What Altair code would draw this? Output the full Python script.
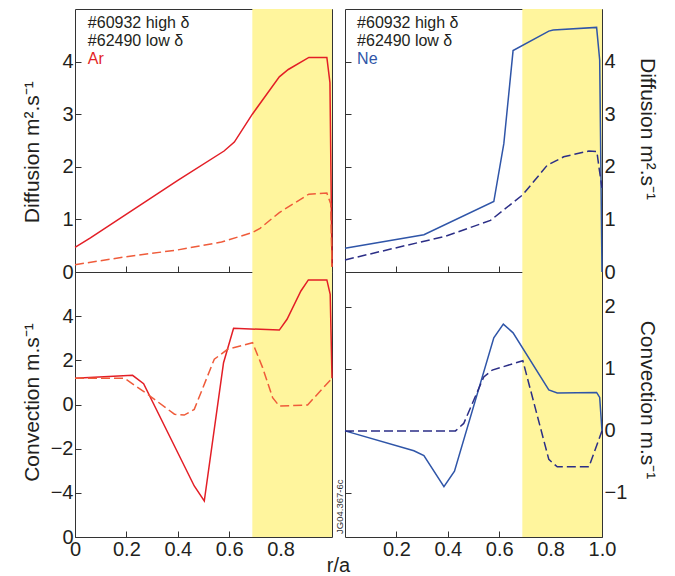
import altair as alt
import pandas as pd

FONT = "Liberation Sans"
BAND_COLOR = "#FFF59D"
BAND_START, BAND_END = 0.69, 1.0

LEGEND_LINES = ["#60932 high δ", "#62490 low δ"]

# Ar diffusion
AR_D_HI_R = [0, 0.06, 0.40, 0.58, 0.62, 0.69, 0.795, 0.83, 0.91, 0.98, 0.992, 1.0]
AR_D_HI_V = [0.47, 0.65, 1.74, 2.30, 2.47, 3.00, 3.71, 3.85, 4.08, 4.08, 3.60, 0.10]
AR_D_LO_R = [0, 0.20, 0.40, 0.57, 0.69, 0.72, 0.795, 0.91, 0.98, 0.995, 1.0]
AR_D_LO_V = [0.14, 0.29, 0.42, 0.57, 0.75, 0.83, 1.13, 1.48, 1.50, 1.30, 0.10]

# Ne diffusion
NE_D_HI_R = [0, 0.307, 0.579, 0.618, 0.654, 0.793, 0.81, 0.979, 0.991, 1.0]
NE_D_HI_V = [0.45, 0.71, 1.34, 2.44, 4.21, 4.58, 4.60, 4.65, 4.03, 0.0]
NE_D_LO_R = [0, 0.294, 0.391, 0.566, 0.692, 0.787, 0.851, 0.949, 0.98, 0.99, 1.0]
NE_D_LO_V = [0.23, 0.57, 0.68, 0.98, 1.47, 2.03, 2.19, 2.30, 2.29, 1.93, 1.60]

# Ar convection
AR_V_HI_R = [0, 0.224, 0.267, 0.464, 0.503, 0.578, 0.617, 0.795, 0.825, 0.879, 0.908, 0.98, 0.993, 1.0]
AR_V_HI_V = [1.19, 1.32, 0.94, -3.69, -4.37, 1.89, 3.45, 3.37, 3.86, 5.14, 5.64, 5.64, 4.99, 1.19]
AR_V_LO_R = [0, 0.192, 0.283, 0.387, 0.425, 0.464, 0.542, 0.594, 0.691, 0.73, 0.769, 0.795, 0.905, 1.0]
AR_V_LO_V = [1.19, 1.19, 0.46, -0.44, -0.48, -0.22, 2.05, 2.50, 2.80, 1.67, 0.31, -0.07, -0.02, 1.19]

# Ne convection
NE_V_HI_R = [0, 0.268, 0.307, 0.385, 0.426, 0.579, 0.616, 0.654, 0.793, 0.826, 0.979, 0.991, 1.0]
NE_V_HI_V = [0, -0.32, -0.40, -0.90, -0.65, 1.50, 1.72, 1.58, 0.66, 0.61, 0.62, 0.54, 0]
NE_V_LO_R = [0, 0.43, 0.462, 0.54, 0.573, 0.692, 0.793, 0.826, 0.949, 1.0]
NE_V_LO_V = [0, 0, 0.12, 0.87, 0.98, 1.13, -0.46, -0.58, -0.58, 0]

AR_HI, AR_LO = "#E31E26", "#EF5B3A"
NE_HI, NE_LO = "#2F55A8", "#2B2E86"
TXT = "#231F20"

W = 257
H_TOP, H_BOT = 263, 265


def x_axis(kind):
    common = dict(domain=False, grid=False, tickSize=6, offset=-6, tickColor="#333",
                  labelPadding=2, labelFlush=False)
    if kind == "top":
        return alt.Axis(values=[0.2, 0.4, 0.6, 0.8], labels=False, title=None, **common)
    if kind == "bl":
        return alt.Axis(values=[0, 0.2, 0.4, 0.6, 0.8],
                        labelExpr="datum.value == 0 ? '0' : format(datum.value, '.1f')",
                        title="r/a", titleX=263, titleY=40, titleBaseline="alphabetic",
                        titleFontSize=20, **common)
    return alt.Axis(values=[0.2, 0.4, 0.6, 0.8, 1.0],
                    labelExpr="format(datum.value, '.1f')", title=None, **common)


def panel(hi_r, hi_v, lo_r, lo_v, c_hi, c_lo, ydom, yvals, h, ytitle, side, xkind,
          title_y, texts=None, label_expr=None):
    xs = alt.Scale(domain=[0, 1], nice=False, zero=False)
    ys = alt.Scale(domain=ydom, nice=False, zero=False)
    xa = x_axis(xkind)
    ax_kw = dict(values=yvals, domain=False, grid=False, tickSize=6, offset=-6,
                 tickColor="#333", labelPadding=2, orient=side)
    main_axis = alt.Axis(title=ytitle, titleX=(-43 if side == "left" else 44.5),
                         titleY=title_y, titleBaseline="alphabetic",
                         **({"labelExpr": label_expr} if label_expr else {}), **ax_kw)
    if side == "right":
        ax_kw2 = dict(ax_kw)
        ax_kw2["orient"] = "left"
        other_axis = alt.Axis(labels=False, title=None, **ax_kw2)
    else:
        other_axis = main_axis

    band = alt.Chart(pd.DataFrame({"r0": [BAND_START], "r1": [BAND_END]})).mark_rect(
        color=BAND_COLOR).encode(x=alt.X("r0:Q", scale=xs, axis=xa), x2="r1:Q")
    hi = alt.Chart(pd.DataFrame({"r": hi_r, "v": hi_v})).mark_line(
        color=c_hi, strokeWidth=1.5).encode(
        x=alt.X("r:Q", scale=xs, axis=xa), y=alt.Y("v:Q", scale=ys, axis=main_axis))
    lo = alt.Chart(pd.DataFrame({"r": lo_r, "v": lo_v})).mark_line(
        color=c_lo, strokeWidth=1.5, strokeDash=[9, 4]).encode(
        x=alt.X("r:Q", scale=xs, axis=xa), y=alt.Y("v:Q", scale=ys, axis=other_axis))
    layers = [band, hi, lo]
    if texts is not None:
        for tdf, kw in texts:
            t = alt.Chart(tdf).mark_text(font=FONT, **kw).encode(
                x=alt.X("r:Q", scale=xs, axis=xa),
                y=alt.Y("v:Q", scale=ys, axis=(main_axis if side == "left" else None)),
                text="t:N", color=alt.Color("c:N", scale=None))
            layers.append(t)
    ch = alt.layer(*layers).properties(width=W, height=h)
    if side == "right":
        ch = ch.resolve_axis(y="independent")
    return ch


def legend_df(r, species, col):
    return pd.DataFrame({"r": [r, r, r], "v": [4.74, 4.39, 4.04],
                         "t": LEGEND_LINES + [species], "c": [TXT, TXT, col]})


leg_kw = dict(align="left", baseline="middle", fontSize=16)

TL = panel(AR_D_HI_R, AR_D_HI_V, AR_D_LO_R, AR_D_LO_V, AR_HI, AR_LO, [0, 5],
           [0, 1, 2, 3, 4], H_TOP, "Diffusion m².s⁻¹", "left", "top", 142.7,
           texts=[(legend_df(0.05, "Ar", AR_HI), leg_kw)])
TR = panel(NE_D_HI_R, NE_D_HI_V, NE_D_LO_R, NE_D_LO_V, NE_HI, NE_LO, [0, 5],
           [0, 1, 2, 3, 4], H_TOP, "Diffusion m².s⁻¹", "right", "top", 119.5,
           texts=[(legend_df(0.047, "Ne", NE_HI), leg_kw)])
BL = panel(AR_V_HI_R, AR_V_HI_V, AR_V_LO_R, AR_V_LO_V, AR_HI, AR_LO, [-6, 6],
           [-6, -4, -2, 0, 2, 4], H_BOT, "Convection m.s⁻¹", "left", "bl", 130,
           label_expr="datum.value == -6 ? '0' : datum.label")
note_df = pd.DataFrame({"r": [0.0], "v": [-1.66], "t": ["JG04.367-6c"], "c": ["#333333"]})
BR = panel(NE_V_HI_R, NE_V_HI_V, NE_V_LO_R, NE_V_LO_V, NE_HI, NE_LO, [-1.71, 2.56],
           [-1, 0, 1, 2], H_BOT, "Convection m.s⁻¹", "right", "br", 127.5,
           texts=[(note_df, dict(align="left", baseline="bottom", angle=270, fontSize=9.5))])

chart = alt.concat(TL, TR, BL, BR, columns=2, spacing={"row": 0, "column": 13},
                   bounds="flush").configure_view(
    stroke="#333333", strokeWidth=1).configure_axis(
    labelFont=FONT, titleFont=FONT, labelFontSize=20, titleFontSize=21,
    titleFontWeight="normal", labelColor=TXT, titleColor=TXT).properties(
    padding={"left": 12, "top": 0, "right": 5, "bottom": 0})

chart.save("out.html", embed_options={"renderer": "svg", "actions": False})
